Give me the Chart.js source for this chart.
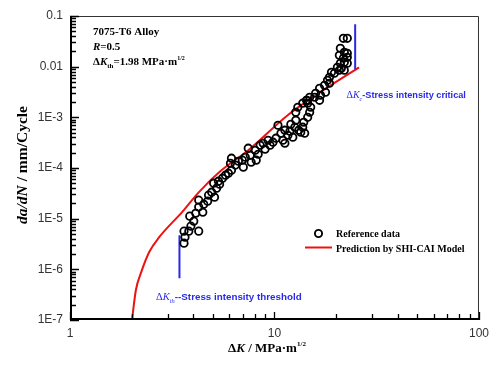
<!DOCTYPE html>
<html><head><meta charset="utf-8">
<script src="https://cdn.jsdelivr.net/npm/chart.js@4.4.1/dist/chart.umd.min.js"></script>
<style>html,body{margin:0;padding:0;background:#fff}#wrap{width:495px;height:365px;position:relative}</style>
</head><body><div id="wrap"><canvas id="c" width="495" height="365"></canvas></div>
<script>
// ---- data ----
const xTickValues = [1, 10, 100];
const xTickLabels = ['1', '10', '100'];
const yTickValues = [1e-7, 1e-6, 1e-5, 1e-4, 1e-3, 0.01, 0.1];
const yTickLabels = ['1E-7', '1E-6', '1E-5', '1E-4', '1E-3', '0.01', '0.1'];

const refDeltaK = [3.61,3.65,3.61,3.81,3.90,4.26,4.03,3.85,4.12,4.26,4.26,4.46,4.51,4.71,4.76,4.93,5.09,5.21,5.04,5.39,5.32,5.57,5.76,5.95,6.16,6.09,6.44,6.66,6.16,6.96,7.20,7.61,7.69,7.44,8.05,8.32,8.51,8.80,8.99,9.51,9.83,10.17,10.40,10.75,11.24,11.24,11.63,11.89,12.02,12.29,12.57,12.71,13.14,13.44,13.74,13.90,14.05,14.53,14.86,14.53,15.03,14.37,15.71,14.86,16.61,16.80,15.89,16.61,17.56,17.76,18.16,18.57,18.57,18.99,19.63,20.30,20.76,20.99,21.23,21.95,22.70,21.95,21.71,22.70,20.76,21.95,20.99,22.70,21.71,22.70,13.00,12.71,13.74,14.37,7.04,8.14,9.30,11.0];
const refRate = [3.29e-6,4.32e-6,5.67e-6,5.67e-6,7.11e-6,5.67e-6,8.93e-6,1.12e-5,1.28e-5,1.69e-5,2.32e-5,1.34e-5,1.93e-5,2.21e-5,2.91e-5,3.33e-5,2.65e-5,4.00e-5,5.01e-5,4.79e-5,5.49e-5,6.29e-5,7.21e-5,7.89e-5,9.05e-5,1.24e-4,1.14e-4,1.36e-4,1.56e-4,1.43e-4,1.63e-4,1.79e-4,1.30e-4,2.46e-4,2.24e-4,1.87e-4,2.82e-4,3.08e-4,2.35e-4,2.82e-4,3.23e-4,3.87e-4,6.98e-4,4.86e-4,5.57e-4,3.08e-4,4.43e-4,5.32e-4,7.31e-4,4.05e-4,6.38e-4,8.77e-4,5.57e-4,5.08e-4,6.38e-4,8.00e-4,4.86e-4,1.00e-3,1.26e-3,1.90e-3,1.58e-3,2.17e-3,2.49e-3,2.49e-3,2.17e-3,2.73e-3,2.99e-3,3.75e-3,4.30e-3,3.13e-3,5.40e-3,6.18e-3,4.71e-3,7.76e-3,7.41e-3,9.73e-3,8.49e-3,1.17e-2,9.29e-3,8.49e-3,1.17e-2,1.22e-2,1.47e-2,1.53e-2,1.68e-2,1.92e-2,2.31e-2,1.84e-2,3.63e-2,3.63e-2,1.58e-3,1.26e-3,1.90e-3,2.17e-3,1.04e-4,1.43e-4,3.53e-4,3.53e-4];

const modelDeltaK = [2.01, 2.10, 2.23, 2.44, 2.73, 3.54, 4.26, 5.43, 7.44, 11.6, 16.2, 25.9];
const modelRate = [1e-7, 3.9e-7, 8.8e-7, 2.2e-6, 4.3e-6, 1.36e-5, 3.3e-5, 8.6e-5, 2.24e-4, 1.1e-3, 2.86e-3, 9.7e-3];

const thresholdDeltaK = [3.43, 3.43];
const thresholdRate = [4.7e-6, 6.7e-7];
const criticalDeltaK = [24.8, 24.8];
const criticalRate = [0.0686, 8.5e-3];

// ---- helpers ----
const SERIF = '"Liberation Serif", "Times New Roman", serif';
const SANS = '"Liberation Sans", Arial, sans-serif';
function rich(ctx, x, y, parts, color) {
  for (const p of parts) {
    ctx.font = p.f;
    ctx.fillStyle = p.c || color || '#000';
    ctx.fillText(p.t, x, y + (p.dy || 0));
    x += ctx.measureText(p.t).width + (p.sp || 0);
  }
  return x;
}
function richWidth(ctx, parts) {
  let w = 0;
  for (const p of parts) { ctx.font = p.f; w += ctx.measureText(p.t).width + (p.sp || 0); }
  return w;
}

const decorPlugin = {
  id: 'decor',
  afterDatasetsDraw(chart) {
    const ctx = chart.ctx, a = chart.chartArea;
    const xs = chart.scales.x, ys = chart.scales.y;
    ctx.save();
    // frame top/right
    ctx.strokeStyle = '#333'; ctx.lineWidth = 1;
    ctx.beginPath();
    ctx.moveTo(a.left, a.top + 0.5); ctx.lineTo(a.right - 0.5, a.top + 0.5); ctx.lineTo(a.right - 0.5, a.bottom);
    ctx.stroke();
    // left & bottom axis
    ctx.strokeStyle = '#000'; ctx.lineWidth = 2;
    ctx.beginPath();
    ctx.moveTo(a.left + 1, a.top); ctx.lineTo(a.left + 1, a.bottom - 1); ctx.lineTo(a.right, a.bottom - 1);
    ctx.stroke();
    // ticks
    ctx.lineWidth = 1.3;
    ctx.beginPath();
    for (let e = -7; e < -1 + 0.5; e++) {
      for (let k = 1; k <= 9; k++) {
        const v = k * Math.pow(10, e);
        if (v > 0.1 * 1.0001) continue;
        const py = Math.round(ys.getPixelForValue(v)) + 0.5;
        const len = (k === 1) ? 7 : 4;
        ctx.moveTo(a.left, py); ctx.lineTo(a.left + 2 + len, py);
      }
    }
    for (let e = 0; e <= 2; e++) {
      for (let k = 1; k <= 9; k++) {
        const v = k * Math.pow(10, e);
        if (v > 100.0001) continue;
        const px = Math.round(xs.getPixelForValue(v)) + 0.5;
        const len = (k === 1) ? 6 : 4;
        ctx.moveTo(px, a.bottom); ctx.lineTo(px, a.bottom - 2 - len);
      }
    }
    ctx.stroke();

    ctx.textBaseline = 'alphabetic';
    ctx.textAlign = 'left';
    // top-left annotation
    rich(ctx, 93, 35, [{t: '7075-T6 Alloy', f: 'bold 11px ' + SERIF}]);
    rich(ctx, 93, 49.5, [{t: 'R', f: 'italic bold 11px ' + SERIF}, {t: '=0.5', f: 'bold 11px ' + SERIF}]);
    rich(ctx, 93, 65, [
      {t: 'Δ', f: 'bold 11px ' + SERIF}, {t: 'K', f: 'italic bold 11px ' + SERIF},
      {t: 'th', f: 'bold 7px ' + SERIF, dy: 3},
      {t: '=1.98 MPa·m', f: 'bold 11px ' + SERIF},
      {t: '1/2', f: 'bold 6px ' + SERIF, dy: -5}
    ]);
    // blue annotations
    const blue = '#2a2ae6';
    rich(ctx, 346.5, 97.5, [
      {t: 'Δ', f: '10px ' + SERIF}, {t: 'K', f: 'italic 10px ' + SERIF},
      {t: 'c', f: 'italic 6px ' + SERIF, dy: 3},
      {t: '-Stress intensity critical', f: 'bold 9.2px ' + SANS}
    ], blue);
    rich(ctx, 156, 300, [
      {t: 'Δ', f: '10.5px ' + SERIF}, {t: 'K', f: 'italic 10.5px ' + SERIF},
      {t: 'th', f: 'italic 6.5px ' + SERIF, dy: 3},
      {t: '--Stress intensity threshold', f: 'bold 9.8px ' + SANS}
    ], blue);

    // legend
    ctx.strokeStyle = '#000'; ctx.lineWidth = 1.9;
    ctx.beginPath(); ctx.arc(318.5, 233.5, 3.6, 0, Math.PI * 2); ctx.stroke();
    rich(ctx, 336, 237, [{t: 'Reference data', f: 'bold 10px ' + SERIF}]);
    ctx.strokeStyle = '#ee1111'; ctx.lineWidth = 2;
    ctx.beginPath(); ctx.moveTo(305, 247.5); ctx.lineTo(332, 247.5); ctx.stroke();
    rich(ctx, 336, 251.5, [{t: 'Prediction by SHI-CAI Model', f: 'bold 10px ' + SERIF}]);

    // x title
    const xt = [
      {t: 'Δ', f: 'bold 13px ' + SERIF}, {t: 'K', f: 'italic bold 13px ' + SERIF},
      {t: ' / MPa·m', f: 'bold 13px ' + SERIF},
      {t: '1/2', f: 'bold 7px ' + SERIF, dy: -6}
    ];
    const xw = richWidth(ctx, xt);
    rich(ctx, 267 - xw / 2, 352, xt);
    // y title
    ctx.save();
    ctx.translate(27, 165);
    ctx.rotate(-Math.PI / 2);
    const yt = [
      {t: 'da/dN', f: 'italic bold 15.5px ' + SERIF},
      {t: ' / mm/Cycle', f: 'bold 15.5px ' + SERIF}
    ];
    const yw = richWidth(ctx, yt);
    rich(ctx, -yw / 2, 0, yt);
    ctx.restore();
    ctx.restore();
  }
};

const ptsRef = refDeltaK.map((k, i) => ({x: k, y: refRate[i]}));
const ptsModel = modelDeltaK.map((k, i) => ({x: k, y: modelRate[i]}));
const ptsTh = thresholdDeltaK.map((k, i) => ({x: k, y: thresholdRate[i]}));
const ptsCr = criticalDeltaK.map((k, i) => ({x: k, y: criticalRate[i]}));

new Chart(document.getElementById('c'), {
  type: 'scatter',
  data: {
    datasets: [
      {label: 'Reference data', data: ptsRef, pointStyle: 'circle', pointRadius: 3.7,
       pointBorderWidth: 1.8, borderColor: '#000', pointBorderColor: '#000', backgroundColor: 'rgba(0,0,0,0)', showLine: false},
      {label: 'Prediction by SHI-CAI Model', data: ptsModel, showLine: true, pointRadius: 0,
       borderColor: '#ee1111', borderWidth: 2, cubicInterpolationMode: 'monotone', fill: false},
      {label: 'th', data: ptsTh, showLine: true, pointRadius: 0, borderColor: '#2a2ae6', borderWidth: 2},
      {label: 'c', data: ptsCr, showLine: true, pointRadius: 0, borderColor: '#2a2ae6', borderWidth: 2}
    ]
  },
  options: {
    responsive: false,
    animation: false,
    devicePixelRatio: 1,
    layout: {padding: {top: 16, right: 12, left: 0, bottom: 0}},
    plugins: {legend: {display: false}, tooltip: {enabled: false}},
    scales: {
      x: {
        type: 'logarithmic', min: 1, max: 100,
        afterBuildTicks: s => { s.ticks = xTickValues.map(v => ({value: v})); },
        afterFit: s => { s.height = 45; },
        grid: {display: false, drawTicks: false},
        border: {display: false},
        ticks: {padding: 6, color: '#333', font: {family: SANS, size: 12},
                callback: (v) => { const i = xTickValues.indexOf(v); return i >= 0 ? xTickLabels[i] : ''; },
                maxRotation: 0, autoSkip: false}
      },
      y: {
        type: 'logarithmic', min: 1e-7, max: 0.1,
        afterBuildTicks: s => { s.ticks = yTickValues.map(v => ({value: v})); },
        afterFit: s => { s.width = 70; },
        grid: {display: false, drawTicks: false},
        border: {display: false},
        ticks: {padding: 7, color: '#333', font: {family: SANS, size: 12},
                callback: (v) => { const i = yTickValues.findIndex(t => Math.abs(t - v) / t < 1e-6); return i >= 0 ? yTickLabels[i] : ''; },
                autoSkip: false}
      }
    }
  },
  plugins: [decorPlugin]
});
</script></body></html>
